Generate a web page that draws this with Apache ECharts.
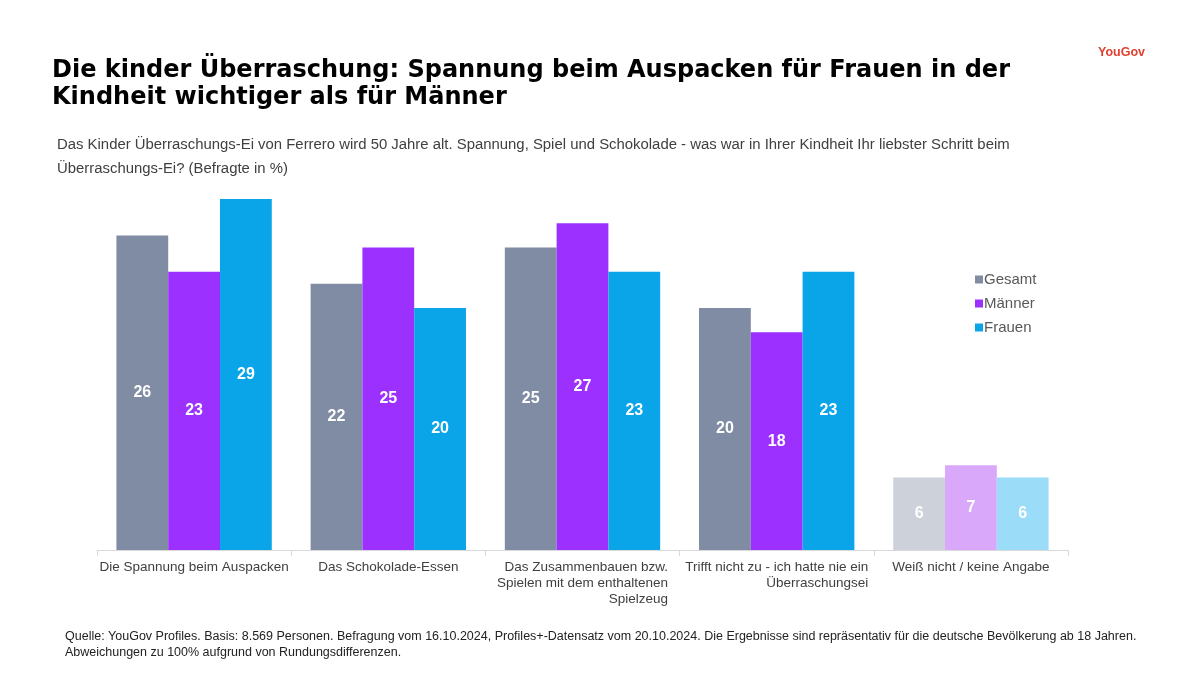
<!DOCTYPE html>
<html>
<head>
<meta charset="utf-8">
<script src="https://cdn.jsdelivr.net/npm/echarts@6/dist/echarts.min.js"></script>
<style>html,body{margin:0;padding:0;background:#fff;}#c{width:1200px;height:675px;}</style>
</head>
<body>
<div id="c"></div>
<script>
const categories = [
  'Die Spannung beim Auspacken',
  'Das Schokolade-Essen',
  'Das Zusammenbauen bzw.\nSpielen mit dem enthaltenen\nSpielzeug',
  'Trifft nicht zu - ich hatte nie ein\nÜberraschungsei',
  'Weiß nicht / keine Angabe'
];
const seriesNames = ['Gesamt', 'Männer', 'Frauen'];
const gesamt = [26, 22, 25, 20, 6];
const maenner = [23, 25, 27, 18, 7];
const frauen = [29, 20, 23, 23, 6];

const colors = ['#7f8ca3', '#9b30ff', '#0aa5e8'];
const lightColors = ['#cdd1da', '#d9a8fb', '#9bdcf9'];

function makeData(vals, idx) {
  return vals.map((v, i) => i === vals.length - 1
    ? { value: v, itemStyle: { color: lightColors[idx] } }
    : v);
}

const chart = echarts.init(document.getElementById('c'));
const FONT = '"Liberation Sans", Arial, sans-serif';
chart.setOption({
  backgroundColor: '#fff',
  textStyle: { fontFamily: FONT },
  title: [
    {
      text: 'Die kinder Überraschung: Spannung beim Auspacken für Frauen in der\nKindheit wichtiger als für Männer',
      left: 52, top: 57, padding: 0,
      textStyle: { fontFamily: '"DejaVu Sans", sans-serif', fontSize: 24, fontWeight: 'bold', color: '#000', lineHeight: 27 }
    },
    {
      text: 'Das Kinder Überraschungs-Ei von Ferrero wird 50 Jahre alt. Spannung, Spiel und Schokolade - was war in Ihrer Kindheit Ihr liebster Schritt beim\nÜberraschungs-Ei? (Befragte in %)',
      left: 57, top: 133, padding: 0,
      textStyle: { fontFamily: FONT, fontSize: 14.9, fontWeight: 'normal', color: '#404040', lineHeight: 24 }
    },
    {
      text: 'Quelle: YouGov Profiles. Basis: 8.569 Personen. Befragung vom 16.10.2024, Profiles+-Datensatz vom 20.10.2024. Die Ergebnisse sind repräsentativ für die deutsche Bevölkerung ab 18 Jahren.\nAbweichungen zu 100% aufgrund von Rundungsdifferenzen.',
      left: 65, top: 628, padding: 0,
      textStyle: { fontFamily: FONT, fontSize: 12.5, fontWeight: 'normal', color: '#222', lineHeight: 16.5 }
    },
    {
      text: 'YouGov',
      left: 1098, top: 46, padding: 0,
      textStyle: { fontFamily: FONT, fontSize: 12.5, fontWeight: 'bold', color: '#e0412f' }
    }
  ],
  legend: {
    orient: 'vertical',
    left: 970, top: 267,
    icon: 'rect',
    itemWidth: 8, itemHeight: 8,
    itemGap: 9,
    data: seriesNames,
    textStyle: { fontFamily: FONT, fontSize: 15, color: '#595959', padding: [0, 0, 0, -4] }
  },
  grid: { left: 97, right: 132, top: 187, bottom: 125, containLabel: false },
  xAxis: {
    type: 'category',
    data: categories,
    axisLine: { lineStyle: { color: '#d9d9d9', width: 1 } },
    axisTick: { show: true, length: 6, lineStyle: { color: '#d9d9d9' } },
    axisLabel: {
      interval: 0,
      margin: 9,
      color: '#404040',
      fontSize: 13.5,
      lineHeight: 16,
      formatter: function (v) {
        return v.split('\n').map(l => '{r|' + l + '}').join('\n');
      },
      rich: { r: { align: 'right', fontSize: 13.5, lineHeight: 16, color: '#404040', fontFamily: FONT } }
    }
  },
  yAxis: {
    type: 'value', min: 0, max: 30,
    show: false,
    splitLine: { show: false }
  },
  series: [gesamt, maenner, frauen].map((vals, idx) => ({
    name: seriesNames[idx],
    type: 'bar',
    data: makeData(vals, idx),
    barGap: '0%',
    barCategoryGap: '20%',
    itemStyle: { color: colors[idx] },
    label: {
      show: true, position: 'inside',
      color: '#fff', fontSize: 16, fontWeight: 'bold', fontFamily: FONT
    },
    animation: false
  }))
});
</script>
</body>
</html>
